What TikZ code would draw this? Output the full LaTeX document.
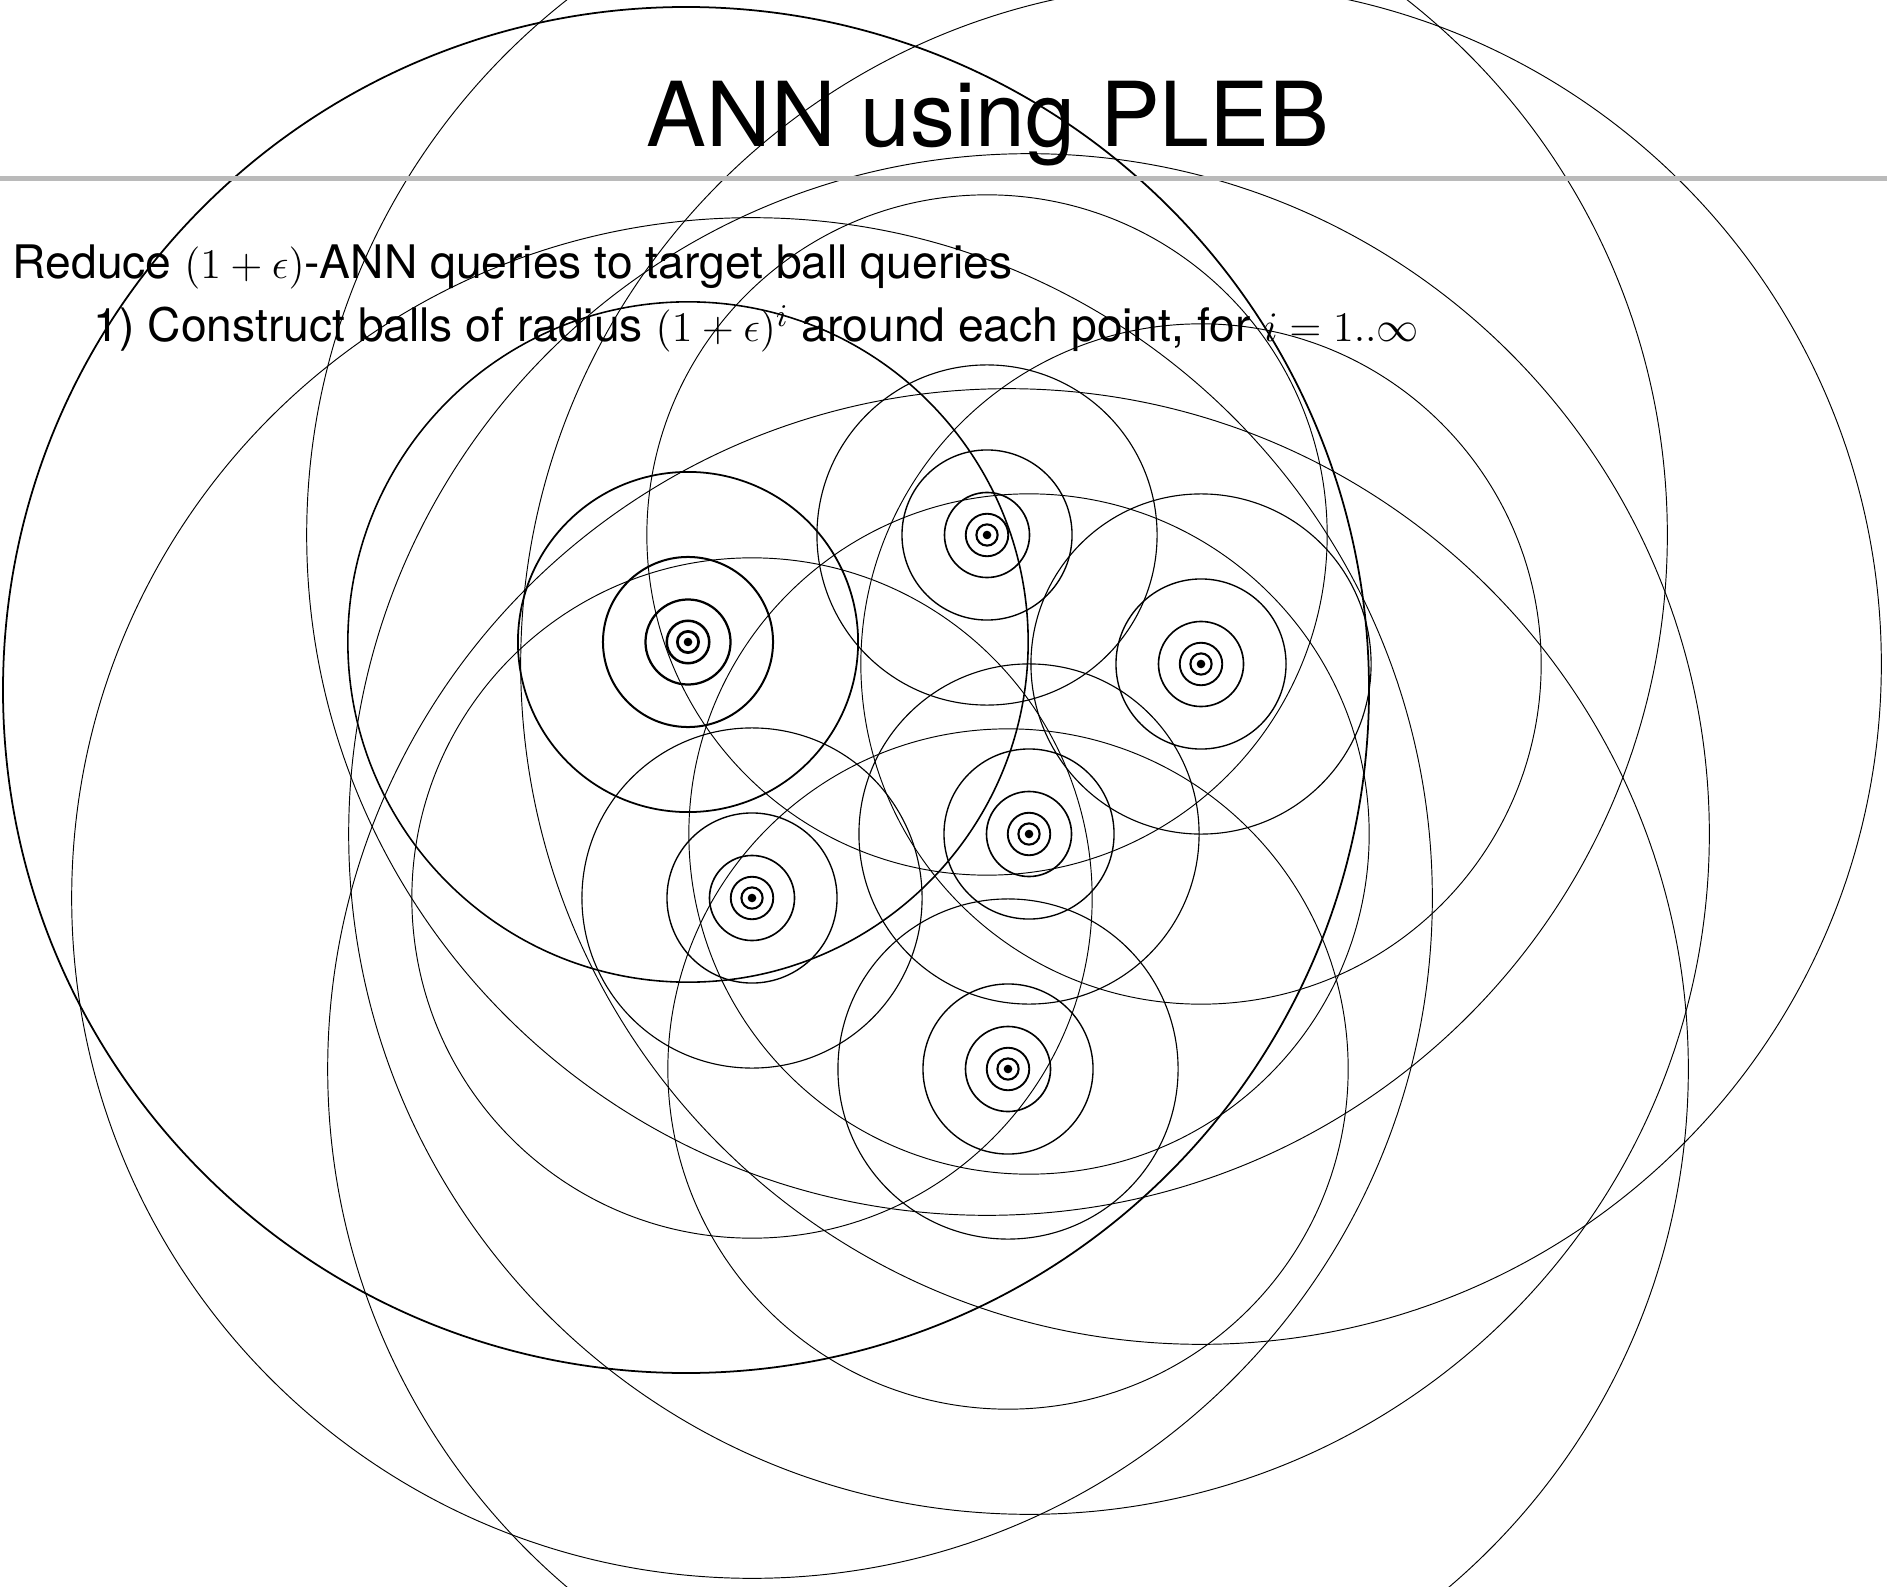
\documentclass[tikz,border=0pt]{standalone}
\usepackage[no-math]{fontspec}
\setmainfont{TeX Gyre Heros}
\setsansfont{TeX Gyre Heros}
\tikzset{
 slidetitle/.style={inner sep=0pt,anchor=base,font=\fontsize{25.5}{30}\selectfont},
 slidetext/.style={inner sep=0pt,anchor=base west,font=\fontsize{13.15}{15}\selectfont},
 rule/.style={line width=1.4pt,black!27},
 dot/.style={fill=black}
}
\begin{document}
\begin{tikzpicture}[x=.1mm,y=-.1mm]
\useasboundingbox (0,0) rectangle (1887,1587);
\clip (0,0) rectangle (1887,1587);
% the data points
\foreach \name/\px/\py in {p1/688/642,p2/987/535,p3/1201/664,p4/1029/834,p5/752/898,p6/1008/1069}
 \coordinate (\name) at (\px,\py);
\coordinate (c1) at (686,690);
% balls of radius r0*2^k around each point
\foreach \p/\kmax/\extra in {p1/5/.18,p2/6/0,p3/6/0,p4/6/0,p5/6/0,p6/6/0} {
 \foreach \k in {0,...,\kmax} {
  \pgfmathsetmacro\lw{max(.27,.6-.07*\k)+\extra}
  \pgfmathsetmacro\rad{10.63*2^\k}
  \draw[line width=\lw pt] (\p) circle[radius=\rad];
 }
 \fill[dot] (\p) circle[radius=4.3];
}
\draw[line width=.5pt] (c1) circle[radius=683];
% slide title and text
\node[slidetitle] (title) at (988,147) {ANN using PLEB};
\draw[rule] (0,178.5) -- (1887,178.5);
\node[slidetext] (reduce) at (12,279) {Reduce $(1+\epsilon)$-ANN queries to target ball queries};
\node[slidetext] (construct) at (93,342) {1) Construct balls of radius $(1+\epsilon)^i$ around each point, for $i=1..\infty$};
\end{tikzpicture}
\end{document}
